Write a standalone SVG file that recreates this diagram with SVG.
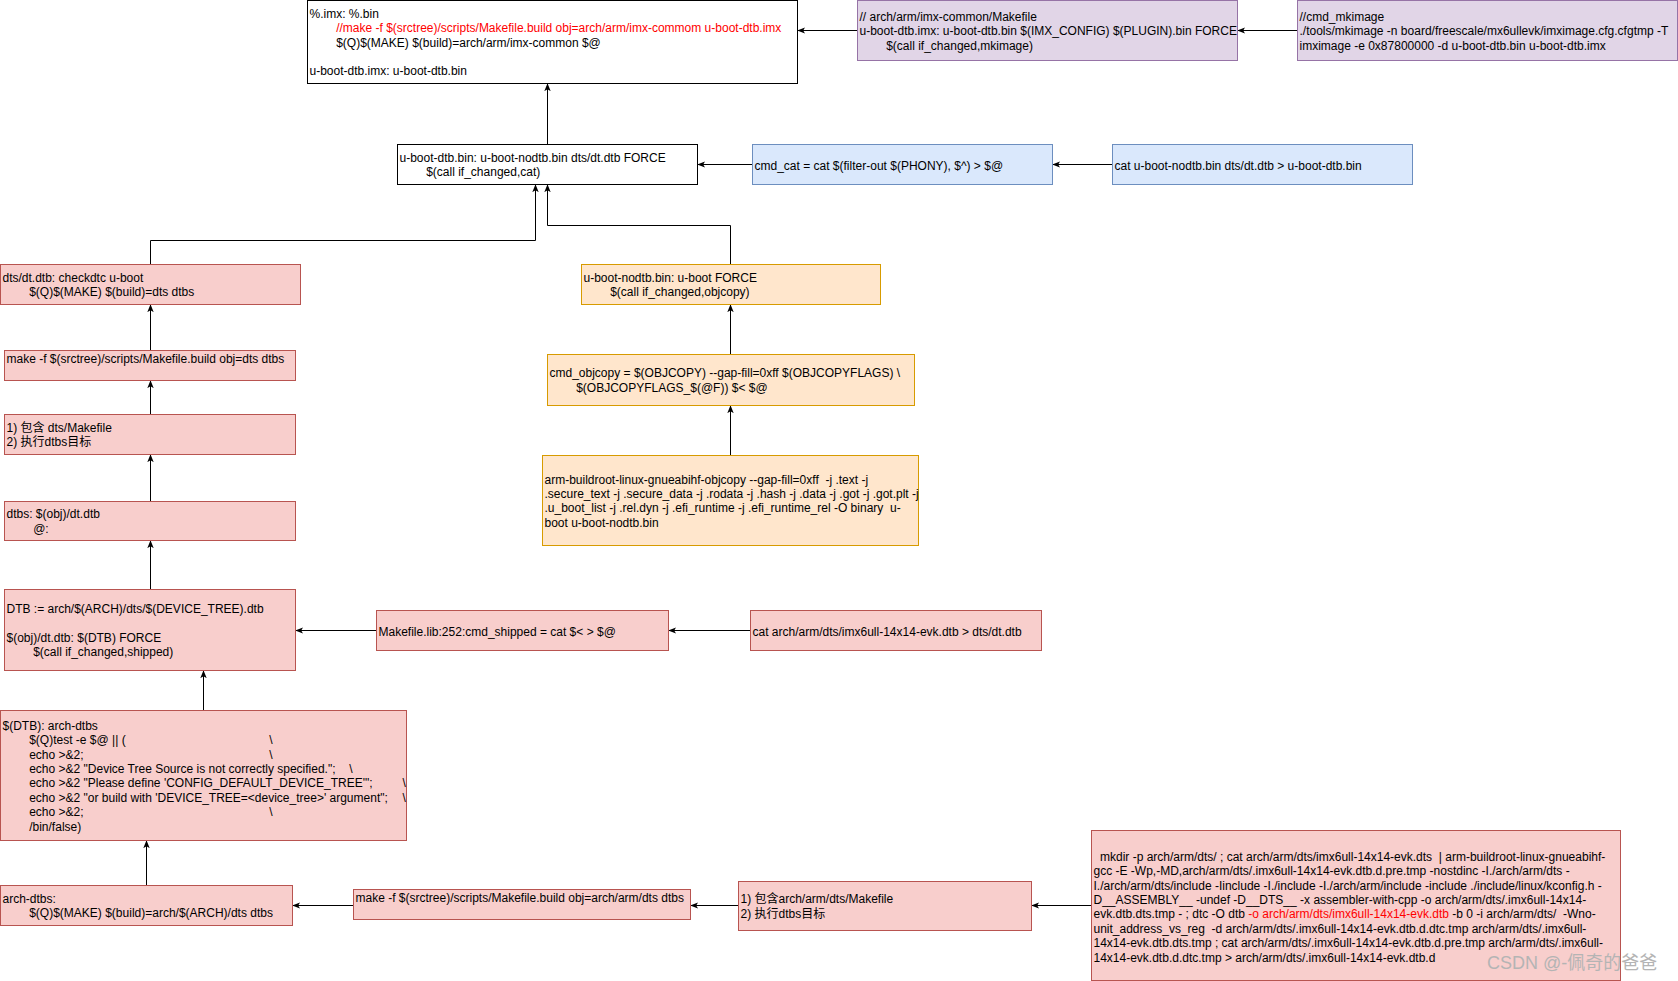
<svg xmlns="http://www.w3.org/2000/svg" width="1678" height="981" viewBox="0 0 1678 981">
<style>
text{font-family:"Liberation Sans","Noto Sans CJK SC",Arial,sans-serif;font-size:12px;fill:#000;transform:translate(0px,1.2px)}
.wh{fill:#ffffff;stroke:#000000;stroke-width:1}
.pu{fill:#e1d5e7;stroke:#9673a6;stroke-width:1}
.bl{fill:#dae8fc;stroke:#6c8ebf;stroke-width:1}
.or{fill:#ffe6cc;stroke:#d79b00;stroke-width:1}
.rd{fill:#f8cecc;stroke:#b85450;stroke-width:1}
.edge{fill:none;stroke:#000;stroke-width:1;marker-end:url(#arr)}
.red{fill:#ff0000}
.wm{font-size:18px;fill:#b4b4b4}
</style>
<defs>
<marker id="arr" viewBox="0 0 10 10" refX="9" refY="5" markerWidth="8" markerHeight="8" markerUnits="userSpaceOnUse" orient="auto">
<path d="M0,1 L10,5 L0,9 L2.5,5 z" fill="#000"/>
</marker>
</defs>
<rect width="1678" height="981" fill="#ffffff"/>

<g id="connectors">
<path class="edge" d="M1297,30.5 L1238,30.5"/>
<path class="edge" d="M857,30.5 L798,30.5"/>
<path class="edge" d="M547.5,144 L547.5,84"/>
<path class="edge" d="M1112,164.5 L1053,164.5"/>
<path class="edge" d="M752,164.5 L698,164.5"/>
<path class="edge" d="M150.5,264 L150.5,240.5 L535.5,240.5 L535.5,185"/>
<path class="edge" d="M730.5,264 L730.5,225.5 L547.5,225.5 L547.5,185"/>
<path class="edge" d="M730.5,354 L730.5,305"/>
<path class="edge" d="M730.5,455 L730.5,406"/>
<path class="edge" d="M150.5,350 L150.5,305"/>
<path class="edge" d="M150.5,414 L150.5,381"/>
<path class="edge" d="M150.5,501 L150.5,455"/>
<path class="edge" d="M150.5,589 L150.5,541"/>
<path class="edge" d="M750,630.5 L669,630.5"/>
<path class="edge" d="M376,630.5 L296,630.5"/>
<path class="edge" d="M203.5,710 L203.5,671"/>
<path class="edge" d="M146.5,885 L146.5,841"/>
<path class="edge" d="M353,905.5 L293,905.5"/>
<path class="edge" d="M738,905.5 L691,905.5"/>
<path class="edge" d="M1091,905.5 L1032,905.5"/>
</g>

<g id="imx-rule">
<rect class="wh" x="307.5" y="0.5" width="490" height="83"/>
<text><tspan x="309.5" y="16.7">%.imx: %.bin</tspan><tspan x="336.2" y="31.1" class="red">//make -f $(srctree)/scripts/Makefile.build obj=arch/arm/imx-commom u-boot-dtb.imx</tspan><tspan x="336.2" y="45.5">$(Q)$(MAKE) $(build)=arch/arm/imx-common $@</tspan><tspan x="309.5" y="74.3">u-boot-dtb.imx: u-boot-dtb.bin</tspan></text>
</g>

<g id="imx-makefile">
<rect class="pu" x="857.5" y="0.5" width="380" height="60"/>
<text><tspan x="859.5" y="19.6">// arch/arm/imx-common/Makefile</tspan><tspan x="859.5" y="34">u-boot-dtb.imx: u-boot-dtb.bin $(IMX_CONFIG) $(PLUGIN).bin FORCE</tspan><tspan x="886.2" y="48.4">$(call if_changed,mkimage)</tspan></text>
</g>

<g id="cmd-mkimage">
<rect class="pu" x="1297.5" y="0.5" width="380" height="60"/>
<text><tspan x="1299.5" y="19.6">//cmd_mkimage</tspan><tspan x="1299.5" y="34">./tools/mkimage -n board/freescale/mx6ullevk/imximage.cfg.cfgtmp -T</tspan><tspan x="1299.5" y="48.4">imximage -e 0x87800000 -d u-boot-dtb.bin u-boot-dtb.imx</tspan></text>
</g>

<g id="u-boot-dtb-bin">
<rect class="wh" x="397.5" y="144.5" width="300" height="40"/>
<text><tspan x="399.5" y="160.8">u-boot-dtb.bin: u-boot-nodtb.bin dts/dt.dtb FORCE</tspan><tspan x="426.2" y="175.2">$(call if_changed,cat)</tspan></text>
</g>

<g id="cmd-cat">
<rect class="bl" x="752.5" y="144.5" width="300" height="40"/>
<text x="754.5" y="168.5">cmd_cat = cat $(filter-out $(PHONY), $^) &gt; $@</text>
</g>

<g id="cat-cmd">
<rect class="bl" x="1112.5" y="144.5" width="300" height="40"/>
<text x="1114.5" y="168.5">cat u-boot-nodtb.bin dts/dt.dtb &gt; u-boot-dtb.bin</text>
</g>

<g id="dts-dt-dtb">
<rect class="rd" x="0.5" y="264.5" width="300" height="40"/>
<text><tspan x="2.5" y="280.8">dts/dt.dtb: checkdtc u-boot</tspan><tspan x="29.2" y="295.2">$(Q)$(MAKE) $(build)=dts dtbs</tspan></text>
</g>

<g id="u-boot-nodtb">
<rect class="or" x="581.5" y="264.5" width="299" height="40"/>
<text><tspan x="583.5" y="280.8">u-boot-nodtb.bin: u-boot FORCE</tspan><tspan x="610.2" y="295.2">$(call if_changed,objcopy)</tspan></text>
</g>

<g id="make-dts">
<rect class="rd" x="4.5" y="350.5" width="291" height="30"/>
<text x="6.5" y="362">make -f $(srctree)/scripts/Makefile.build obj=dts dtbs</text>
</g>

<g id="cmd-objcopy">
<rect class="or" x="547.5" y="354.5" width="367" height="51"/>
<text><tspan x="549.5" y="376.3">cmd_objcopy = $(OBJCOPY) --gap-fill=0xff $(OBJCOPYFLAGS) \</tspan><tspan x="576.2" y="390.7">$(OBJCOPYFLAGS_$(@F)) $&lt; $@</tspan></text>
</g>

<g id="include-dts">
<rect class="rd" x="4.5" y="414.5" width="291" height="40"/>
<text><tspan x="6.5" y="430.8">1) 包含 dts/Makefile</tspan><tspan x="6.5" y="445.2">2) 执行dtbs目标</tspan></text>
</g>

<g id="objcopy-cmd">
<rect class="or" x="542.5" y="455.5" width="376" height="90"/>
<text><tspan x="544.5" y="482.4">arm-buildroot-linux-gnueabihf-objcopy --gap-fill=0xff &#160;-j .text -j</tspan><tspan x="544.5" y="496.8">.secure_text -j .secure_data -j .rodata -j .hash -j .data -j .got -j .got.plt -j</tspan><tspan x="544.5" y="511.2">.u_boot_list -j .rel.dyn -j .efi_runtime -j .efi_runtime_rel -O binary &#160;u-</tspan><tspan x="544.5" y="525.6">boot u-boot-nodtb.bin</tspan></text>
</g>

<g id="dtbs">
<rect class="rd" x="4.5" y="501.5" width="291" height="39"/>
<text><tspan x="6.5" y="517.3">dtbs: $(obj)/dt.dtb</tspan><tspan x="33.2" y="531.7">@:</tspan></text>
</g>

<g id="dtb-shipped">
<rect class="rd" x="4.5" y="589.5" width="291" height="81"/>
<text><tspan x="6.5" y="611.9">DTB := arch/$(ARCH)/dts/$(DEVICE_TREE).dtb</tspan><tspan x="6.5" y="640.7">$(obj)/dt.dtb: $(DTB) FORCE</tspan><tspan x="33.2" y="655.1">$(call if_changed,shipped)</tspan></text>
</g>

<g id="cmd-shipped">
<rect class="rd" x="376.5" y="610.5" width="292" height="40"/>
<text x="378.5" y="634.5">Makefile.lib:252:cmd_shipped = cat $&lt; &gt; $@</text>
</g>

<g id="cat-dtb">
<rect class="rd" x="750.5" y="610.5" width="291" height="40"/>
<text x="752.5" y="634.5">cat arch/arm/dts/imx6ull-14x14-evk.dtb &gt; dts/dt.dtb</text>
</g>

<g id="dtb-arch-dtbs">
<rect class="rd" x="0.5" y="710.5" width="406" height="130"/>
<text><tspan x="2.5" y="728.6">$(DTB): arch-dtbs</tspan><tspan x="29.2" y="743">$(Q)test -e $@ || (</tspan><tspan x="269.2" y="743">\</tspan><tspan x="29.2" y="757.4">echo &gt;&amp;2;</tspan><tspan x="269.2" y="757.4">\</tspan><tspan x="29.2" y="771.8">echo &gt;&amp;2 "Device Tree Source is not correctly specified.";</tspan><tspan x="349.2" y="771.8">\</tspan><tspan x="29.2" y="786.2">echo &gt;&amp;2 "Please define 'CONFIG_DEFAULT_DEVICE_TREE'";</tspan><tspan x="402.5" y="786.2">\</tspan><tspan x="29.2" y="800.6">echo &gt;&amp;2 "or build with 'DEVICE_TREE=&lt;device_tree&gt;' argument";</tspan><tspan x="402.5" y="800.6">\</tspan><tspan x="29.2" y="815">echo &gt;&amp;2;</tspan><tspan x="269.2" y="815">\</tspan><tspan x="29.2" y="829.4">/bin/false)</tspan></text>
</g>

<g id="arch-dtbs">
<rect class="rd" x="0.5" y="885.5" width="292" height="40"/>
<text><tspan x="2.5" y="901.8">arch-dtbs:</tspan><tspan x="29.2" y="916.2">$(Q)$(MAKE) $(build)=arch/$(ARCH)/dts dtbs</tspan></text>
</g>

<g id="make-arch-dts">
<rect class="rd" x="353.5" y="889.5" width="337" height="30"/>
<text x="355.5" y="901">make -f $(srctree)/scripts/Makefile.build obj=arch/arm/dts dtbs</text>
</g>

<g id="include-arch-dts">
<rect class="rd" x="738.5" y="881.5" width="293" height="49"/>
<text><tspan x="740.5" y="902.3">1) 包含arch/arm/dts/Makefile</tspan><tspan x="740.5" y="916.7">2) 执行dtbs目标</tspan></text>
</g>

<g id="dtc-cmd">
<rect class="rd" x="1091.5" y="830.5" width="529" height="150"/>
<text><tspan x="1100" y="859.6">mkdir -p arch/arm/dts/ ; cat arch/arm/dts/imx6ull-14x14-evk.dts &#160;| arm-buildroot-linux-gnueabihf-</tspan><tspan x="1093.5" y="874">gcc -E -Wp,-MD,arch/arm/dts/.imx6ull-14x14-evk.dtb.d.pre.tmp -nostdinc -I./arch/arm/dts -</tspan><tspan x="1093.5" y="888.4">I./arch/arm/dts/include -Iinclude -I./include -I./arch/arm/include -include ./include/linux/kconfig.h -</tspan><tspan x="1093.5" y="902.8">D__ASSEMBLY__ -undef -D__DTS__ -x assembler-with-cpp -o arch/arm/dts/.imx6ull-14x14-</tspan><tspan x="1093.5" y="917.2">evk.dtb.dts.tmp - ; dtc -O dtb </tspan><tspan class="red">-o arch/arm/dts/imx6ull-14x14-evk.dtb</tspan><tspan> -b 0 -i arch/arm/dts/ &#160;-Wno-</tspan><tspan x="1093.5" y="931.6">unit_address_vs_reg &#160;-d arch/arm/dts/.imx6ull-14x14-evk.dtb.d.dtc.tmp arch/arm/dts/.imx6ull-</tspan><tspan x="1093.5" y="946">14x14-evk.dtb.dts.tmp ; cat arch/arm/dts/.imx6ull-14x14-evk.dtb.d.pre.tmp arch/arm/dts/.imx6ull-</tspan><tspan x="1093.5" y="960.4">14x14-evk.dtb.d.dtc.tmp &gt; arch/arm/dts/.imx6ull-14x14-evk.dtb.d</tspan></text>
</g>

<text class="wm" x="1487" y="968">CSDN @-佩奇的爸爸</text>
</svg>
